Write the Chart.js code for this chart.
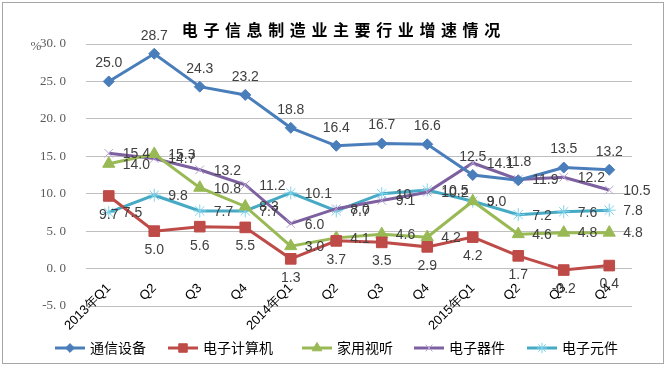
<!DOCTYPE html>
<html>
<head>
<meta charset="utf-8">
<script src="https://cdn.jsdelivr.net/npm/chart.js@4.4.0/dist/chart.umd.min.js"></script>
<style>
  html, body { margin: 0; padding: 0; background: #fff; }
  #wrap { width: 669px; height: 367px; position: relative; }
</style>
</head>
<body>
<div id="wrap"><canvas id="chart"></canvas></div>
<script>
const quarters = ['2013年Q1', 'Q2', 'Q3', 'Q4', '2014年Q1', 'Q2', 'Q3', 'Q4', '2015年Q1', 'Q2', 'Q3', 'Q4'];
const telecom = [25.0, 28.7, 24.3, 23.2, 18.8, 16.4, 16.7, 16.6, 12.5, 11.8, 13.5, 13.2];
const computer = [9.7, 5.0, 5.6, 5.5, 1.3, 3.7, 3.5, 2.9, 4.2, 1.7, -0.2, 0.4];
const audioVideo = [14.0, 15.3, 10.8, 8.3, 3.0, 4.1, 4.6, 4.2, 9.0, 4.6, 4.8, 4.8];
const devices = [15.4, 14.7, 13.2, 11.2, 6.0, 8.0, 9.1, 10.2, 14.1, 11.9, 12.2, 10.5];
const components = [7.5, 9.8, 7.7, 7.7, 10.1, 7.7, 10, 10.5, 9, 7.2, 7.6, 7.8];
const seriesNames = ['通信设备', '电子计算机', '家用视听', '电子器件', '电子元件'];
const yMin = -5, yMax = 30, yStep = 5;

const title = '电子信息制造业主要行业增速情况';
const labelFont = '14px "Liberation Sans", Arial, sans-serif';

// where each series puts its value labels
const labelPos = ['top', 'bottom', 'right', 'right', 'right'];
const fmtFixed = v => v.toFixed(1);
const fmtGeneral = v => String(v);

function series(label, data, color, marker, pos, fmt) {
  return {
    label: label,
    data: data,
    borderColor: color.line,
    backgroundColor: color.fill,
    borderWidth: 3,
    pointStyle: marker.style,
    pointRadius: marker.r,
    pointHoverRadius: marker.r,
    pointBackgroundColor: color.fill,
    pointBorderColor: color.pt,
    pointBorderWidth: marker.bw,
    tension: 0,
    fill: false,
    labelPos: pos,
    fmt: fmt,
  };
}

const datasets = [
  series(seriesNames[0], telecom, { line: '#4a7ebb', fill: '#4a7ebb', pt: '#4a7ebb' }, { style: 'rectRot', r: 5.5, bw: 1 }, labelPos[0], fmtFixed),
  series(seriesNames[1], computer, { line: '#be4b48', fill: '#be4b48', pt: '#be4b48' }, { style: 'rect', r: 7.5, bw: 1 }, labelPos[1], fmtFixed),
  series(seriesNames[2], audioVideo, { line: '#98b954', fill: '#98b954', pt: '#98b954' }, { style: 'triangle', r: 7, bw: 1 }, labelPos[2], fmtFixed),
  series(seriesNames[3], devices, { line: '#7d60a0', fill: '#7d60a0', pt: '#b9a6d6' }, { style: 'crossRot', r: 6, bw: 1 }, labelPos[3], fmtFixed),
  series(seriesNames[4], components, { line: '#46aac5', fill: '#46aac5', pt: '#7fd2ea' }, { style: 'star', r: 6.5, bw: 1 }, labelPos[4], fmtGeneral),
];

// value labels next to every point
const valueLabels = {
  id: 'valueLabels',
  afterDatasetsDraw(chart) {
    const ctx = chart.ctx;
    ctx.save();
    ctx.font = labelFont;
    ctx.fillStyle = '#404040';
    chart.data.datasets.forEach((ds, i) => {
      const meta = chart.getDatasetMeta(i);
      meta.data.forEach((pt, j) => {
        const txt = ds.fmt(ds.data[j]);
        let x = pt.x, y = pt.y;
        if (ds.labelPos === 'top') {
          ctx.textAlign = 'center'; ctx.textBaseline = 'middle'; y -= 18;
        } else if (ds.labelPos === 'bottom') {
          ctx.textAlign = 'center'; ctx.textBaseline = 'middle'; y += 19;
        } else {
          ctx.textAlign = 'left'; ctx.textBaseline = 'middle'; x += 14; y += 1;
        }
        ctx.fillText(txt, x, y);
      });
    });
    ctx.restore();
  }
};

// title, % unit, legend and outer frame
const decorations = {
  id: 'decorations',
  beforeDraw(chart) {
    const ctx = chart.ctx;
    ctx.save();
    ctx.fillStyle = '#fff';
    ctx.fillRect(0, 0, chart.width, chart.height);
    ctx.restore();
  },
  afterDraw(chart) {
    const ctx = chart.ctx;
    ctx.save();
    // title with wide letter spacing
    ctx.font = 'bold 16px "Noto Sans CJK SC", sans-serif';
    ctx.fillStyle = '#000';
    ctx.textAlign = 'center';
    ctx.textBaseline = 'middle';
    const pitch = 21.6;
    const start = 341 - pitch * (title.length - 1) / 2;
    for (let k = 0; k < title.length; k++) {
      ctx.fillText(title[k], start + k * pitch, 30);
    }
    // unit
    ctx.font = '13px "Liberation Serif", serif';
    ctx.fillStyle = '#595959';
    ctx.fillText('%', 36, 47);

    // legend
    const legendX = [55, 168, 302, 414, 527];
    const ly = 348;
    ctx.font = '14px "Noto Sans CJK SC", sans-serif';
    chart.data.datasets.forEach((ds, i) => {
      const x0 = legendX[i];
      ctx.strokeStyle = ds.borderColor;
      ctx.lineWidth = 3;
      ctx.beginPath();
      ctx.moveTo(x0, ly);
      ctx.lineTo(x0 + 30, ly);
      ctx.stroke();
      ctx.fillStyle = ds.pointBackgroundColor;
      ctx.strokeStyle = ds.pointBorderColor;
      ctx.lineWidth = ds.pointBorderWidth;
      Chart.helpers.drawPoint(ctx, { pointStyle: ds.pointStyle, radius: ds.pointRadius * 0.8, rotation: 0, borderWidth: ds.pointBorderWidth }, x0 + 15, ly);
      ctx.fillStyle = '#000';
      ctx.textAlign = 'left';
      ctx.textBaseline = 'middle';
      ctx.fillText(ds.label, x0 + 35, ly);
    });

    // frame
    ctx.strokeStyle = '#a6a6a6';
    ctx.lineWidth = 1;
    ctx.strokeRect(2.5, 2.5, 661, 361);
    ctx.restore();
  }
};

new Chart(document.getElementById('chart'), {
  type: 'line',
  data: { labels: quarters, datasets: datasets },
  options: {
    responsive: true,
    maintainAspectRatio: false,
    animation: false,
    layout: { padding: { left: 0, right: 37, top: 44, bottom: 61 } },
    plugins: {
      legend: { display: false },
      title: { display: false },
      tooltip: { enabled: false },
    },
    scales: {
      x: {
        type: 'category',
        offset: true,
        position: { y: 0 },
        grid: { display: false },
        border: { display: false },
        ticks: {
          minRotation: 45,
          maxRotation: 45,
          autoSkip: false,
          padding: 4,
          color: '#000',
          font: { family: '"Liberation Sans", Arial, sans-serif', size: 13 },
        },
        afterFit(scale) { scale.height = 0; },
      },
      y: {
        min: yMin,
        max: yMax,
        grid: { color: '#bfbfbf', lineWidth: 1, drawTicks: false },
        border: { display: false },
        ticks: {
          stepSize: yStep,
          padding: 20,
          color: '#595959',
          font: { family: '"Liberation Serif", serif', size: 13 },
          callback: v => v.toFixed(1).replace('.', '. '),
        },
        afterFit(scale) { scale.width = 86; },
      },
    },
  },
  plugins: [valueLabels, decorations],
});
</script>
</body>
</html>
